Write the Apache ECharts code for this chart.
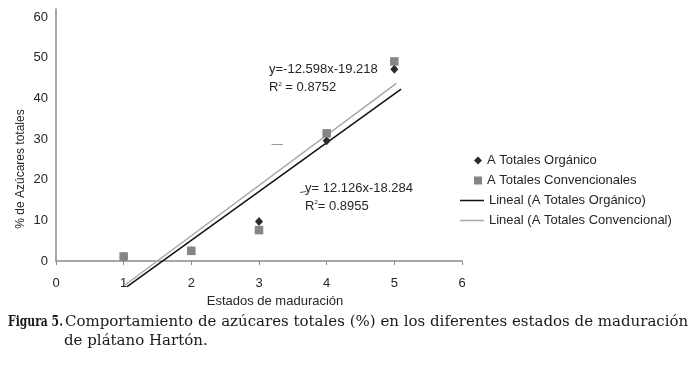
<!DOCTYPE html>
<html>
<head>
<meta charset="utf-8">
<script src="https://cdn.jsdelivr.net/npm/echarts@6/dist/echarts.min.js"></script>
<style>
html,body{margin:0;padding:0;background:#fff;}
#chart{width:697px;height:370px;}
</style>
</head>
<body>
<div id="chart"></div>
<script>
// ---- data ----
const stages = [1, 2, 3, 4, 5];
const organico = [1.1, 2.5, 9.7, 29.6, 47.2];
const convencional = [1.1, 2.5, 7.6, 31.4, 49.1];
// trend line end points (x, y) as drawn in the reference
const trendOrgX = [1.05, 5.1];
const trendOrgY = [-6.3, 42.3];
const trendConvX = [1.02, 5.03];
const trendConvY = [-5.9, 43.7];
const xTicks = [0, 1, 2, 3, 4, 5, 6];
const yTicks = [0, 10, 20, 30, 40, 50, 60];

const names = {
  org: 'A Totales Orgánico',
  conv: 'A Totales Convencionales',
  linOrg: 'Lineal (A Totales Orgánico)',
  linConv: 'Lineal (A Totales Convencional)'
};
const xTitle = 'Estados de maduración';
const yTitle = '% de Azúcares totales';
const eqConv = ['y=-12.598x-19.218', '0.8752'];
const eqOrg = ['y= 12.126x-18.284', '0.8955'];

const pairs = (xs, ys) => xs.map((x, i) => [x, ys[i]]);

const FONT = 'Liberation Sans, Arial, sans-serif';
const SERIF = '"DejaVu Serif", serif';
const TXT = '#262626';
const AXC = '#8a8a8a';

const chart = echarts.init(document.getElementById('chart'), null, {renderer: 'canvas'});
chart.setOption({
  animation: false,
  backgroundColor: '#fff',
  textStyle: {fontFamily: FONT},
  grid: {left: 56, right: 235, top: 9, bottom: 109, containLabel: false},
  xAxis: {
    type: 'value', min: xTicks[0], max: xTicks[xTicks.length - 1], interval: 1,
    name: xTitle, nameLocation: 'middle', nameGap: 32,
    nameTextStyle: {fontSize: 13, color: TXT, fontFamily: FONT, padding: [0, 0, 0, 32]},
    axisLine: {lineStyle: {color: AXC, width: 1.5}},
    axisTick: {show: true, length: 4, inside: false, lineStyle: {color: AXC}},
    axisLabel: {fontSize: 13, color: TXT, margin: 16, fontFamily: FONT, customValues: xTicks},
    splitLine: {show: false}
  },
  yAxis: {
    type: 'value', min: 0, max: 62, interval: 10,
    axisLine: {show: true, onZero: false, lineStyle: {color: AXC, width: 1.5}},
    axisTick: {show: false},
    axisLabel: {fontSize: 13, color: TXT, margin: 8, fontFamily: FONT, customValues: yTicks},
    splitLine: {show: false}
  },
  legend: [
    {
      data: [names.org, names.conv], orient: 'vertical', left: 474, top: 154,
      padding: 0, itemGap: 7, itemWidth: 8, itemHeight: 8,
      textStyle: {fontSize: 13, color: TXT, fontFamily: FONT}
    },
    {
      data: [names.linOrg, names.linConv], orient: 'vertical', left: 460, top: 194,
      padding: 0, itemGap: 7, itemWidth: 24, itemHeight: 1.5, icon: 'rect',
      textStyle: {fontSize: 13, color: TXT, fontFamily: FONT}
    }
  ],
  series: [
    {
      name: names.linOrg, type: 'line', data: pairs(trendOrgX, trendOrgY),
      symbol: 'none', clip: false, z: 1,
      lineStyle: {color: '#111111', width: 1.5}, itemStyle: {color: '#111111'}
    },
    {
      name: names.linConv, type: 'line', data: pairs(trendConvX, trendConvY),
      symbol: 'none', clip: false, z: 1,
      lineStyle: {color: '#a8a8a8', width: 1.5}, itemStyle: {color: '#a8a8a8'}
    },
    {
      name: names.org, type: 'scatter', data: pairs(stages, organico),
      symbol: 'diamond', symbolSize: [8, 9], z: 3,
      itemStyle: {color: '#2b2b2b', opacity: 1}
    },
    {
      name: names.conv, type: 'scatter', data: pairs(stages, convencional),
      symbol: 'rect', symbolSize: 8.5, z: 4,
      itemStyle: {color: '#858585', opacity: 1}
    }
  ],
  graphic: [
    {type: 'text', x: 21, y: 169, rotation: Math.PI / 2, style: {
      text: yTitle, font: '12px ' + FONT, fill: TXT, align: 'center', verticalAlign: 'middle'
    }},
    {type: 'text', left: 269, top: 63, style: {text: eqConv[0], font: '13px ' + FONT, fill: TXT}},
    {type: 'text', left: 269, top: 81, style: {
      text: 'R{s|2} = ' + eqConv[1], font: '13px ' + FONT, fill: TXT,
      rich: {s: {fontSize: 6, verticalAlign: 'top', fill: TXT, lineHeight: 13}}
    }},
    {type: 'text', left: 305, top: 181.5, style: {text: eqOrg[0], font: '13px ' + FONT, fill: TXT}},
    {type: 'text', left: 305, top: 199.5, style: {
      text: 'R{s|2}= ' + eqOrg[1], font: '13px ' + FONT, fill: TXT,
      rich: {s: {fontSize: 6, verticalAlign: 'top', fill: TXT, lineHeight: 13}}
    }},
    {type: 'line', shape: {x1: 271.5, y1: 144.5, x2: 283, y2: 144.5}, style: {stroke: '#9a9a9a', lineWidth: 1}},
    {type: 'line', shape: {x1: 300, y1: 192.5, x2: 306, y2: 191.5}, style: {stroke: '#555', lineWidth: 1}},
    {type: 'text', x: 8, y: 315, scaleX: 0.72, style: {text: 'Figura 5.', font: 'bold 15px ' + SERIF, fill: '#1a1a1a'}},
    {type: 'text', left: 65, top: 315, style: {text: 'Comportamiento de azúcares totales (%) en los diferentes estados de maduración', font: '15px ' + SERIF, fill: '#1a1a1a'}},
    {type: 'text', left: 64, top: 334, style: {text: 'de plátano Hartón.', font: '15px ' + SERIF, fill: '#1a1a1a'}}
  ]
});
</script>
</body>
</html>
